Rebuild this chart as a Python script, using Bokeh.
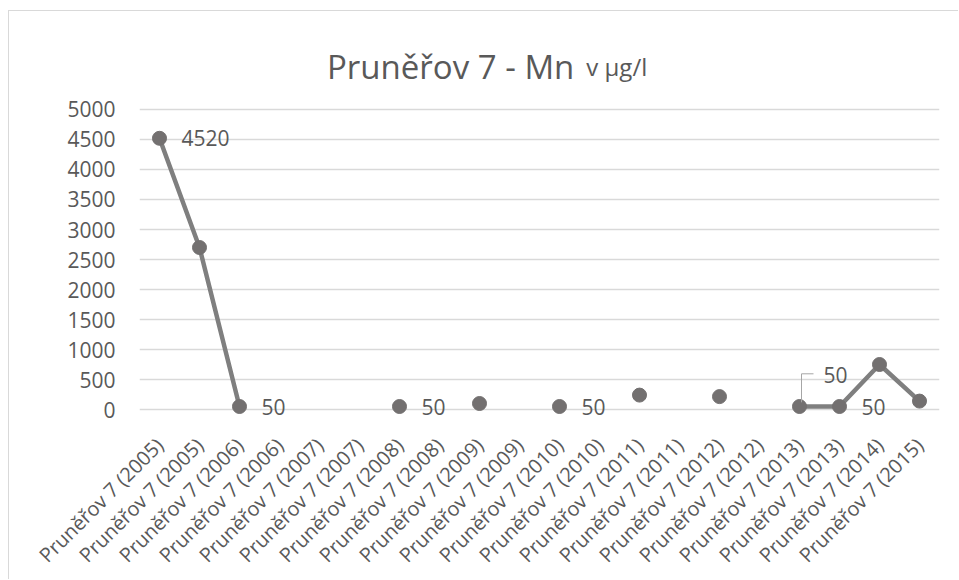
from bokeh.plotting import figure
from bokeh.models import Range1d, FixedTicker, Label, ColumnDataSource
from bokeh.embed import file_html
from bokeh.resources import INLINE
import numpy as np

# ---- data ----
categories = ["Pruněřov 7 (2005)", "Pruněřov 7 (2005)", "Pruněřov 7 (2006)", "Pruněřov 7 (2006)",
              "Pruněřov 7 (2007)", "Pruněřov 7 (2007)", "Pruněřov 7 (2008)", "Pruněřov 7 (2008)",
              "Pruněřov 7 (2009)", "Pruněřov 7 (2009)", "Pruněřov 7 (2010)", "Pruněřov 7 (2010)",
              "Pruněřov 7 (2011)", "Pruněřov 7 (2011)", "Pruněřov 7 (2012)", "Pruněřov 7 (2012)",
              "Pruněřov 7 (2013)", "Pruněřov 7 (2013)", "Pruněřov 7 (2014)", "Pruněřov 7 (2015)"]
values = [4520, 2700, 50, None, None, None, 50, None, 100, None,
          50, None, 240, None, 215, None, 50, 50, 750, 140]
right_labels = [0, 2, 6, 10, 17]      # indices with a value label to the right
leader_label = 16                     # index with a label above, with leader line
y_ticks = [0, 500, 1000, 1500, 2000, 2500, 3000, 3500, 4000, 4500, 5000]
title_main = "Pruněřov 7 - Mn"
title_unit = "v µg/l"

FONT = "Open Sans"
TXT = "#595959"
LINE = "#7f7f7f"
MARK = "#737070"
GRID = "#d9d9d9"

n = len(categories)
xs = [i + 0.5 for i in range(n)]
ys = [np.nan if v is None else v for v in values]

# frame extends above the value axis (room for the title) and a little below 0
p = figure(width=950, height=569, output_backend="svg", toolbar_location=None,
           x_range=Range1d(0, n), y_range=Range1d(-183.3, 6483.3),
           min_border_left=130, min_border_right=20, min_border_top=9, min_border_bottom=160,
           background_fill_color="white", border_fill_color="white")
p.styles = {"margin-left": "8px", "margin-top": "10px",
            "border-left": "1px solid #d9d9d9", "border-top": "1px solid #d9d9d9"}
p.outline_line_color = None

p.line(xs, ys, line_color=LINE, line_width=4.5)
pts_x = [x for x, v in zip(xs, values) if v is not None]
pts_y = [v for v in values if v is not None]
p.scatter(pts_x, pts_y, size=14, fill_color=MARK, line_color=MARK)

# axes
p.xaxis.ticker = FixedTicker(ticks=xs)
p.xaxis.major_label_overrides = {x: c for x, c in zip(xs, categories)}
p.xaxis.major_label_orientation = np.pi / 4
p.xaxis.axis_line_color = None
p.xaxis.major_tick_line_color = None
p.xaxis.minor_tick_line_color = None
p.xaxis.major_label_text_font = FONT
p.xaxis.major_label_text_font_size = "20px"
p.xaxis.major_label_text_color = TXT
p.xaxis.major_label_standoff = 15

p.yaxis.ticker = FixedTicker(ticks=y_ticks)
p.yaxis.axis_line_color = None
p.yaxis.major_tick_line_color = None
p.yaxis.minor_tick_line_color = None
p.yaxis.major_label_text_font = FONT
p.yaxis.major_label_text_font_size = "21px"
p.yaxis.major_label_text_color = TXT
p.yaxis.major_label_standoff = 18

p.xgrid.grid_line_color = None
p.ygrid.ticker = FixedTicker(ticks=y_ticks)
p.ygrid.grid_line_color = GRID
p.ygrid.grid_line_width = 1.5

# data labels
for i in right_labels:
    p.add_layout(Label(x=xs[i], y=values[i], text=str(values[i]), x_offset=22,
                       text_align="left", text_baseline="middle",
                       text_font=FONT, text_font_size="21px", text_color=TXT))
i = leader_label
src = ColumnDataSource(dict(x=[xs[i] + 0.05, xs[i] + 0.05, xs[i] + 0.35],
                            y=[values[i] + 70, values[i] + 545, values[i] + 545]))
p.line("x", "y", source=src, line_color="#a6a6a6", line_width=1)
p.add_layout(Label(x=xs[i] + 0.6, y=values[i] + 520, text=str(values[i]),
                   text_align="left", text_baseline="middle",
                   text_font=FONT, text_font_size="21px", text_color=TXT))

# title
p.add_layout(Label(x=10.87, y=5717, text=title_main, text_align="right", text_baseline="alphabetic",
                   text_font=FONT, text_font_size="33px", text_color=TXT))
p.add_layout(Label(x=11.17, y=5717, text=title_unit, text_align="left", text_baseline="alphabetic",
                   text_font=FONT, text_font_size="24px", text_color=TXT))

open("out.html", "w").write(file_html(p, INLINE))
